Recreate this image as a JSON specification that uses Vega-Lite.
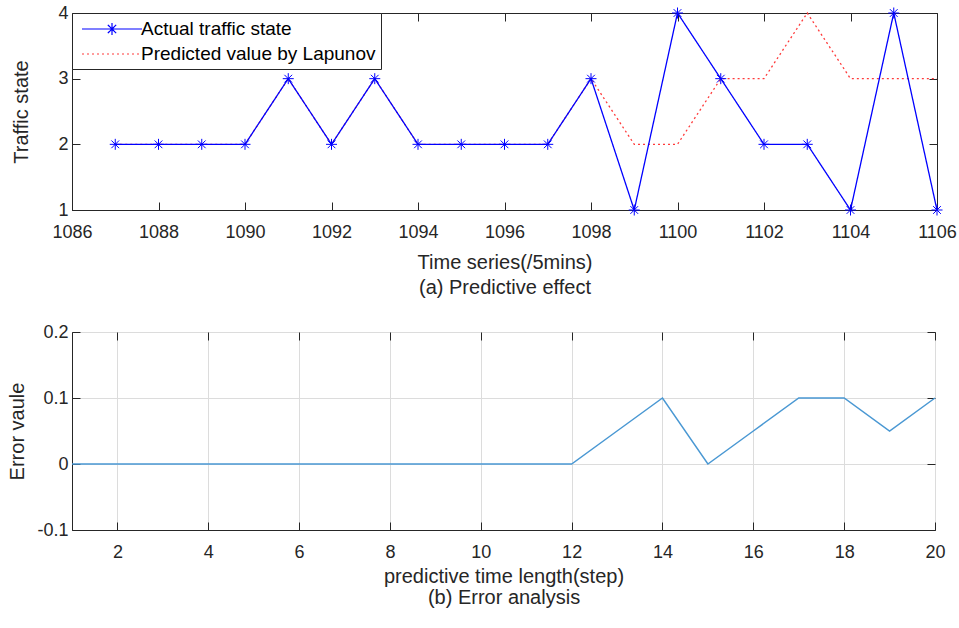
{
  "$schema": "https://vega.github.io/schema/vega-lite/v6.json",
  "padding": {"left": 6, "top": 3, "right": 5, "bottom": 5},
  "background": "white",
  "spacing": 122,
  "bounds": "flush",
  "config": {
    "font": "Liberation Sans",
    "view": {"stroke": "#262626", "strokeWidth": 1},
    "axis": {
      "labelFont": "Liberation Sans",
      "titleFont": "Liberation Sans",
      "labelFontSize": 18,
      "titleFontSize": 20,
      "titleFontWeight": "normal",
      "labelColor": "#262626",
      "titleColor": "#262626",
      "domainColor": "#262626",
      "tickColor": "#262626",
      "tickSize": -8,
      "labelFlush": false,
      "labelOverlap": false,
      "gridColor": "#dcdcdc",
      "gridWidth": 1
    }
  },
  "vconcat": [
    {
      "width": 865,
      "height": 197,
      "data": {
        "values": [
          {"t": 1087, "state": 2, "series": "Predicted value by Lapunov"},
          {"t": 1088, "state": 2, "series": "Predicted value by Lapunov"},
          {"t": 1089, "state": 2, "series": "Predicted value by Lapunov"},
          {"t": 1090, "state": 2, "series": "Predicted value by Lapunov"},
          {"t": 1091, "state": 3, "series": "Predicted value by Lapunov"},
          {"t": 1092, "state": 2, "series": "Predicted value by Lapunov"},
          {"t": 1093, "state": 3, "series": "Predicted value by Lapunov"},
          {"t": 1094, "state": 2, "series": "Predicted value by Lapunov"},
          {"t": 1095, "state": 2, "series": "Predicted value by Lapunov"},
          {"t": 1096, "state": 2, "series": "Predicted value by Lapunov"},
          {"t": 1097, "state": 2, "series": "Predicted value by Lapunov"},
          {"t": 1098, "state": 3, "series": "Predicted value by Lapunov"},
          {"t": 1099, "state": 2, "series": "Predicted value by Lapunov"},
          {"t": 1100, "state": 2, "series": "Predicted value by Lapunov"},
          {"t": 1101, "state": 3, "series": "Predicted value by Lapunov"},
          {"t": 1102, "state": 3, "series": "Predicted value by Lapunov"},
          {"t": 1103, "state": 4, "series": "Predicted value by Lapunov"},
          {"t": 1104, "state": 3, "series": "Predicted value by Lapunov"},
          {"t": 1105, "state": 3, "series": "Predicted value by Lapunov"},
          {"t": 1106, "state": 3, "series": "Predicted value by Lapunov"},
          {"t": 1087, "state": 2, "series": "Actual traffic state"},
          {"t": 1088, "state": 2, "series": "Actual traffic state"},
          {"t": 1089, "state": 2, "series": "Actual traffic state"},
          {"t": 1090, "state": 2, "series": "Actual traffic state"},
          {"t": 1091, "state": 3, "series": "Actual traffic state"},
          {"t": 1092, "state": 2, "series": "Actual traffic state"},
          {"t": 1093, "state": 3, "series": "Actual traffic state"},
          {"t": 1094, "state": 2, "series": "Actual traffic state"},
          {"t": 1095, "state": 2, "series": "Actual traffic state"},
          {"t": 1096, "state": 2, "series": "Actual traffic state"},
          {"t": 1097, "state": 2, "series": "Actual traffic state"},
          {"t": 1098, "state": 3, "series": "Actual traffic state"},
          {"t": 1099, "state": 1, "series": "Actual traffic state"},
          {"t": 1100, "state": 4, "series": "Actual traffic state"},
          {"t": 1101, "state": 3, "series": "Actual traffic state"},
          {"t": 1102, "state": 2, "series": "Actual traffic state"},
          {"t": 1103, "state": 2, "series": "Actual traffic state"},
          {"t": 1104, "state": 1, "series": "Actual traffic state"},
          {"t": 1105, "state": 4, "series": "Actual traffic state"},
          {"t": 1106, "state": 1, "series": "Actual traffic state"}
        ]
      },
      "layer": [
        {
          "mark": {"type": "line", "strokeWidth": 1.3},
          "encoding": {
            "x": {
              "field": "t", "type": "quantitative",
              "scale": {"domain": [1086, 1106], "nice": false, "zero": false},
              "axis": {
                "orient": "bottom",
                "values": [1086, 1088, 1090, 1092, 1094, 1096, 1098, 1100, 1102, 1104, 1106],
                "format": "d",
                "grid": false,
                "labelPadding": 21,
                "title": ["Time series(/5mins)", "(a) Predictive effect"],
                "titleBaseline": "alphabetic",
                "titleY": 58,
                "titleLineHeight": 25
              }
            },
            "y": {
              "field": "state", "type": "quantitative",
              "scale": {"domain": [1, 4], "nice": false, "zero": false},
              "axis": {
                "orient": "left",
                "values": [1, 2, 3, 4],
                "grid": false,
                "labelPadding": 12,
                "title": "Traffic state",
                "titleX": -41
              }
            },
            "color": {
              "field": "series", "type": "nominal",
              "scale": {"domain": ["Actual traffic state", "Predicted value by Lapunov"], "range": ["#0000ff", "#ff3a3a"]},
              "legend": {
                "orient": "top-left",
                "offset": 0,
                "title": null,
                "padding": 5,
                "rowPadding": 4,
                "fillColor": "white",
                "strokeColor": "#262626",
                "cornerRadius": 0,
                "labelFont": "Liberation Sans",
                "labelFontSize": 19,
                "labelLimit": 400,
                "labelColor": "#000000",
                "symbolSize": 400,
                "symbolOffset": 24,
                "symbolStrokeWidth": 1.2,
                "labelOffset": 18,
                "symbolType": "M-3,0L3,0",
                "encode": {
                  "symbols": {
                    "update": {
                      "shape": {"signal": "datum.value === 'Actual traffic state' ? 'M-3,0L3,0M0,-0.6L0,0.6M-0.6,0L0.6,0M-0.42,-0.42L0.42,0.42M-0.42,0.42L0.42,-0.42' : 'M-3,0L3,0'"},
                      "strokeDash": {"signal": "datum.value === 'Actual traffic state' ? [1, 0] : [2, 3]"}
                    }
                  }
                }
              }
            },
            "strokeDash": {
              "field": "series", "type": "nominal",
              "scale": {"domain": ["Actual traffic state", "Predicted value by Lapunov"], "range": [[1, 0], [2, 3]]},
              "legend": null
            }
          }
        },
        {
          "transform": [{"filter": "datum.series === 'Actual traffic state'"}],
          "mark": {
            "type": "point",
            "shape": "M-1,0L1,0M0,-1L0,1M-0.7,-0.7L0.7,0.7M-0.7,0.7L0.7,-0.7",
            "size": 121,
            "filled": false,
            "color": "#0000ff",
            "strokeWidth": 1,
            "opacity": 1
          },
          "encoding": {
            "x": {
              "field": "t", "type": "quantitative",
              "axis": {
                "orient": "top",
                "values": [1086, 1088, 1090, 1092, 1094, 1096, 1098, 1100, 1102, 1104, 1106],
                "labels": false, "domain": false, "grid": false, "title": null
              }
            },
            "y": {
              "field": "state", "type": "quantitative",
              "axis": {
                "orient": "right",
                "values": [1, 2, 3, 4],
                "labels": false, "domain": false, "grid": false, "title": null
              }
            }
          }
        }
      ],
      "resolve": {"axis": {"x": "independent", "y": "independent"}}
    },
    {
      "width": 863,
      "height": 198,
      "data": {
        "values": [
          {"step": 1, "err": 0},
          {"step": 2, "err": 0},
          {"step": 3, "err": 0},
          {"step": 4, "err": 0},
          {"step": 5, "err": 0},
          {"step": 6, "err": 0},
          {"step": 7, "err": 0},
          {"step": 8, "err": 0},
          {"step": 9, "err": 0},
          {"step": 10, "err": 0},
          {"step": 11, "err": 0},
          {"step": 12, "err": 0},
          {"step": 13, "err": 0.05},
          {"step": 14, "err": 0.1},
          {"step": 15, "err": 0},
          {"step": 16, "err": 0.05},
          {"step": 17, "err": 0.1},
          {"step": 18, "err": 0.1},
          {"step": 19, "err": 0.05},
          {"step": 20, "err": 0.1}
        ]
      },
      "layer": [
        {
          "mark": {"type": "line", "color": "#4a98d3", "strokeWidth": 1.5},
          "encoding": {
            "x": {
              "field": "step", "type": "quantitative",
              "scale": {"domain": [1, 20], "nice": false, "zero": false},
              "axis": {
                "orient": "bottom",
                "values": [2, 4, 6, 8, 10, 12, 14, 16, 18, 20],
                "format": "d",
                "grid": true,
                "labelPadding": 21,
                "title": ["predictive time length(step)", "(b) Error analysis"],
                "titleBaseline": "alphabetic",
                "titleY": 52,
                "titleLineHeight": 21
              }
            },
            "y": {
              "field": "err", "type": "quantitative",
              "scale": {"domain": [-0.1, 0.2], "nice": false, "zero": false},
              "axis": {
                "orient": "left",
                "values": [-0.1, 0, 0.1, 0.2],
                "grid": true,
                "labelPadding": 12,
                "labelExpr": "abs(datum.value) < 1e-9 ? '0' : (datum.value < 0 ? '-' + format(-datum.value, '.1f') : format(datum.value, '.1f'))",
                "title": "Error vaule",
                "titleX": -45
              }
            }
          }
        },
        {
          "mark": {"type": "line", "opacity": 0},
          "encoding": {
            "x": {
              "field": "step", "type": "quantitative",
              "axis": {
                "orient": "top",
                "values": [2, 4, 6, 8, 10, 12, 14, 16, 18, 20],
                "labels": false, "domain": false, "grid": false, "title": null
              }
            },
            "y": {
              "field": "err", "type": "quantitative",
              "axis": {
                "orient": "right",
                "values": [-0.1, 0, 0.1, 0.2],
                "labels": false, "domain": false, "grid": false, "title": null
              }
            }
          }
        }
      ],
      "resolve": {"axis": {"x": "independent", "y": "independent"}}
    }
  ]
}
